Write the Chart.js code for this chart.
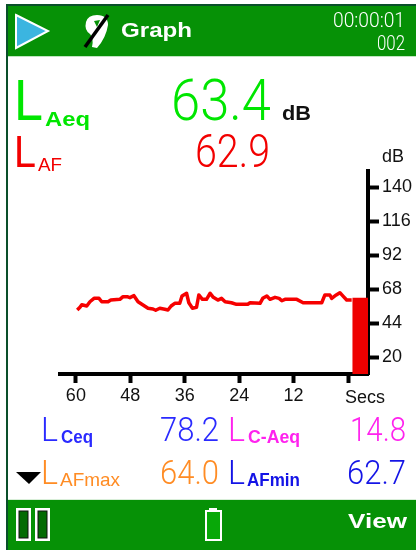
<!DOCTYPE html>
<html><head><meta charset="utf-8">
<script src="https://cdn.jsdelivr.net/npm/chart.js@4"></script>
<style>
html,body{margin:0;padding:0;background:#fff;overflow:hidden}
#s{position:relative;width:416px;height:551px;overflow:hidden;background:#fff;filter:blur(.4px)}
#f{position:absolute;left:6px;top:4px;width:420px;height:546px;border:2px solid #0a4f2a;box-sizing:border-box}
.b{position:absolute;left:8px;width:408px;background:#069106}
canvas{position:absolute;left:0;top:0}
.t{position:absolute;white-space:nowrap;line-height:0;transform-origin:0 0}
svg{position:absolute;left:0;top:0}
</style></head><body>
<div id="s">
<div id="f"></div>
<div class="b" style="top:6px;height:50px;border-bottom:1px solid #bfe6bf"></div>
<div class="b" style="top:499px;height:50px;border-top:1px solid #d8eed8"></div>
<canvas id="c" width="416" height="551"></canvas>
<svg width="416" height="551">
<polygon points="16,15 48,31 16,48" fill="#3bb5e0" stroke="#fff" stroke-width="2"/>
<path d="M86 22 Q88 15 97 15 Q108 15 108 25 Q106 38 97 48 L92 47 Q94 38 90 34 Q84 30 86 22Z M94 21 L97 27 L100 20Z" fill="#fff" fill-rule="evenodd"/>
<line x1="85" y1="47" x2="108" y2="15" stroke="#000" stroke-width="3.5"/>
<polygon points="16,472 41,472 29,484" fill="#000"/>
<rect x="17" y="509" width="13" height="31" fill="#fff" stroke="#fff" stroke-width="2"/>
<rect x="19" y="511" width="9" height="27" fill="#046b04" stroke="#111" stroke-width="1"/>
<rect x="36" y="509" width="13" height="31" fill="#fff" stroke="#fff" stroke-width="2"/>
<rect x="38" y="511" width="9" height="27" fill="#046b04" stroke="#111" stroke-width="1"/>
<rect x="209" y="508" width="8" height="4" fill="#fff"/>
<rect x="206" y="511" width="15" height="29" fill="#08a808" stroke="#fff" stroke-width="2"/>
</svg>
<div id="texts"></div>
</div>
<script>
const secs = [59.7,59.1,58.7,57.6,56.9,56,54.9,54.3,52.9,52.3,50.3,49.6,48.7,48.1,47.2,46.3,45.2,44.1,43,42.4,41.5,40.4,39.7,39,38.2,37.1,36.6,35.6,35.1,34.3,33.4,32.9,32.1,31.2,30.4,29.7,28.7,27.9,27.1,25.7,24.6,22.1,21.6,19.4,18.8,17.9,17.2,16.1,15.2,14.6,13.9,11.3,9.9,5.8,5.1,4,3.6,2.6,1.8,1,0.3,-0.8];
const levels = [53.2,55.1,56.9,56,59,61.4,61.4,59,59,60.2,60.7,62.6,62.6,61.9,63.3,59,56.7,54.4,53.9,53,54.4,53.7,53.2,56,57.9,57.9,63.1,65,58.3,54.4,55.1,63.8,60.7,60.7,65,62.1,60.2,61.4,59,58.3,57.2,57.2,58.3,57.9,61.4,63.1,60.7,62.1,61.4,59.7,60.7,60.7,58.3,58.3,63.8,63.8,61.4,63.8,65.4,62.6,60.2,60.2];
const barSec = [-2.7];
const barLevel = [61.6];
const yTicks = [20,44,68,92,116,140];
const xTicks = [60,48,36,24,12,0];
const TICKFONT = '"Liberation Sans",Arial,sans-serif';

new Chart(document.getElementById('c'), {
  type: 'line',
  data: { datasets: [
    { type:'line', data: secs.map((x,i)=>({x, y:levels[i]})), borderColor:'#f60000', borderWidth:3.5, pointRadius:0, tension:0, fill:false, borderJoinStyle:'round' },
    { type:'bar', data: barSec.map((x,i)=>({x, y:barLevel[i]})), backgroundColor:'#ee0000', barThickness:15, grouped:false }
  ]},
  options: {
    responsive:false, animation:false,
    layout:{ padding:{ left:60, top:171, right:0, bottom:0 } },
    plugins:{ legend:{display:false}, tooltip:{enabled:false}, title:{display:false} },
    scales:{
      x:{ type:'linear', reverse:true, position:'bottom', min:-4.4, max:63.5, offset:false,
        afterBuildTicks:s=>{ s.ticks = xTicks.map(value=>({value})); },
        afterFit:s=>{ s.height = 551-374; },
        border:{ color:'#000', width:4 },
        grid:{ drawOnChartArea:false, drawTicks:true, tickLength:9, tickWidth:4, tickColor:'#000', offset:false },
        ticks:{ maxRotation:0, autoSkip:false, padding:2, color:'#111', font:{ family:TICKFONT, size:18 }, callback:v=> v===0 ? '' : String(v) }
      },
      y:{ type:'linear', position:'right', min:8, max:151.3,
        afterBuildTicks:s=>{ s.ticks = yTicks.map(value=>({value})); },
        afterFit:s=>{ s.width = 416-368; },
        border:{ color:'#000', width:4 },
        grid:{ drawOnChartArea:false, drawTicks:true, tickLength:11, tickWidth:4, tickColor:'#000' },
        ticks:{ padding:3, color:'#111', font:{ family:TICKFONT, size:18 }, callback:v=>String(v) }
      }
    }
  }
});

const holder = document.getElementById('texts');
function T(str,x0,x1,base,size,color,weight){
  const e=document.createElement('div'); e.className='t'; e.textContent=str;
  const fam = weight===300 ? 'Roboto,"Liberation Sans",sans-serif' : '"Liberation Sans",Arial,sans-serif';
  e.style.cssText=`left:${x0}px;top:${base-size*0.3465}px;font-family:${fam};font-size:${size}px;color:${color};font-weight:${weight||400}`;
  holder.appendChild(e);
  const w=e.getBoundingClientRect().width;
  e.style.transform=`scaleX(${(x1-x0)/w})`;
}
const G='#00e600',R='#f20000',B='#2a2aff',M='#ff22ee',O='#ff8c24',D='#1414e6',W='#fff',K='#111';
T('Graph',121,192,37,21,W,700);
T('00:00:01',333,405,27,21,W,300);
T('002',377,405,50,21,W,300);
T('L',14,43,120,58,G,400);
T('Aeq',45,90,126,20,G,700);
T('63.4',171,271,120,58,G,300);
T('dB',282,311,120,20,K,700);
T('L',14,36,167,44,R,400);
T('AF',38,62,172,19,R);
T('62.9',195,270,167,46,R,300);
T('dB',382,404,162,18,K);
T('Secs',345,385,403,18,K);
T('L',41,58,441,33,B,300);
T('Ceq',61,93,444,19,B,700);
T('78.2',160,219,441,33,B,300);
T('L',228,245,441,33,M,300);
T('C-Aeq',248,300,444,19,M,700);
T('14.8',350,406,441,33,M,300);
T('L',41,58,484,33,O,300);
T('AFmax',60,120,487,19,O);
T('64.0',160,219,484,33,O,300);
T('L',228,245,484,33,D,300);
T('AFmin',247,300,487,19,D,700);
T('62.7',347,406,484,33,D,300);
T('View',348,407,528,21,W,700);
</script>
</body></html>
